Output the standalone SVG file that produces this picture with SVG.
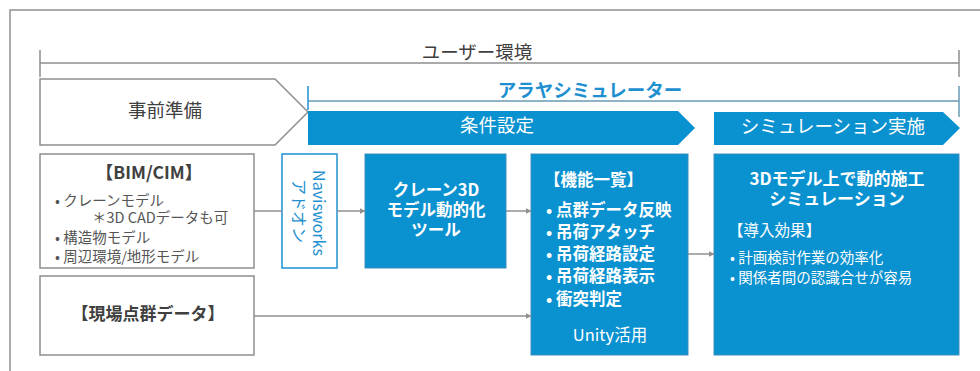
<svg xmlns="http://www.w3.org/2000/svg" width="980" height="371" viewBox="0 0 980 371">
<defs>
<style>
text{font-family:"Noto Sans CJK JP","Noto Sans",sans-serif;}
.gs{fill:#fff;stroke:#8f8f8f;stroke-width:1.5;}
.bl{fill:#0a91cf;stroke:#3a8fc0;stroke-width:1;}
.wt{fill:#fff;}
.dk{fill:#404040;}
.md{fill:#555;}
.con{stroke:#8f8f8f;stroke-width:1.5;fill:none;}
.b{font-weight:bold;}
</style>
<marker id="ah" viewBox="0 0 10 10" refX="9" refY="5" markerWidth="6" markerHeight="6" orient="auto" markerUnits="userSpaceOnUse"><path d="M0,0 L10,5 L0,10 z" fill="#8f8f8f"/></marker>
</defs>
<rect width="980" height="371" fill="#fff"/>
<rect x="10" y="10" width="990" height="380" fill="none" stroke="#909090" stroke-width="1.5"/>

<g id="user-env">
<path d="M40,63 H959 M40,50 V77 M959,50 V77" stroke="#8f8f8f" stroke-width="1.5" fill="none"/>
<text x="477" y="59" font-size="18.5" text-anchor="middle" class="dk">ユーザー環境</text>
</g>

<g id="araya">
<path d="M308,101 H959 M959,86 V117" stroke="#6a9ab5" stroke-width="1.5" fill="none"/>
<path d="M308,86 V110" stroke="#1e90d0" stroke-width="1.5"/>
<text x="590" y="97" font-size="18.5" text-anchor="middle" class="b" fill="#1e90d0">アラヤシミュレーター</text>
</g>

<g id="prep">
<path d="M40,79 H275 L308,112 L275,145 H40 Z" class="gs"/>
<text x="165" y="117" font-size="18.5" text-anchor="middle" class="dk">事前準備</text>
</g>

<g id="cond">
<path d="M308,111 H678 L695,128 L678,145 H308 Z" fill="#0a91cf"/>
<text x="497" y="132" font-size="18.5" text-anchor="middle" class="wt">条件設定</text>
</g>

<g id="simrun">
<path d="M714,112 H943 L960,128 L943,145 H714 Z" fill="#0a91cf"/>
<text x="833" y="133" font-size="18.5" text-anchor="middle" class="wt">シミュレーション実施</text>
</g>

<g id="bimcim">
<rect x="40" y="154" width="214" height="114" class="gs"/>
<text x="149" y="179" font-size="17.5" text-anchor="middle" class="dk b">【BIM/CIM】</text>
<text font-size="14.5" class="md"><tspan x="55" y="206">• クレーンモデル</tspan><tspan x="92" y="223">＊3D CADデータも可</tspan><tspan x="55" y="243">• 構造物モデル</tspan><tspan x="55" y="262">• 周辺環境/地形モデル</tspan></text>
</g>

<g id="pointcloud">
<rect x="40" y="276" width="214" height="79" class="gs"/>
<text x="148" y="320" font-size="17" text-anchor="middle" class="dk b">【現場点群データ】</text>
</g>

<g id="navis">
<rect x="282" y="154" width="55" height="114" fill="#fff" stroke="#1e90d0" stroke-width="1.5"/>
<text transform="translate(310,213) rotate(90)" font-size="16" fill="#1e90d0" text-anchor="middle"><tspan x="0" y="-3">Navisworks</tspan><tspan x="-2" y="17">アドオン</tspan></text>
</g>

<g id="crane">
<rect x="365" y="154" width="141" height="114" class="bl"/>
<text font-size="16.5" text-anchor="middle" class="wt b"><tspan x="436" y="196">クレーン3D</tspan><tspan x="436" y="216">モデル動的化</tspan><tspan x="436" y="236">ツール</tspan></text>
</g>

<g id="features">
<rect x="531" y="154" width="157" height="201" class="bl"/>
<text font-size="16.5" class="wt b"><tspan x="544" y="186">【機能一覧】</tspan><tspan x="546" y="216">• 点群データ反映</tspan><tspan x="546" y="238">• 吊荷アタッチ</tspan><tspan x="546" y="260">• 吊荷経路設定</tspan><tspan x="546" y="282">• 吊荷経路表示</tspan><tspan x="546" y="305">• 衝突判定</tspan></text>
<text x="610" y="341" font-size="16.5" text-anchor="middle" class="wt">Unity活用</text>
</g>

<g id="simulation">
<rect x="714" y="154" width="245" height="201" class="bl"/>
<text font-size="17" text-anchor="middle" class="wt b"><tspan x="837" y="185">3Dモデル上で動的施工</tspan><tspan x="837" y="205">シミュレーション</tspan></text>
<text x="728" y="236" font-size="15.5" class="wt">【導入効果】</text>
<text font-size="14.5" class="wt"><tspan x="730" y="263">• 計画検討作業の効率化</tspan><tspan x="730" y="283">• 関係者間の認識合せが容易</tspan></text>
</g>

<g id="connectors">
<path d="M254,211 H282" class="con"/>
<path d="M337,211 H365" class="con" marker-end="url(#ah)"/>
<path d="M506,211 H531" class="con" marker-end="url(#ah)"/>
<path d="M254,316 H531" class="con" marker-end="url(#ah)"/>
<path d="M688,254 H714" class="con" marker-end="url(#ah)"/>
</g>
</svg>
